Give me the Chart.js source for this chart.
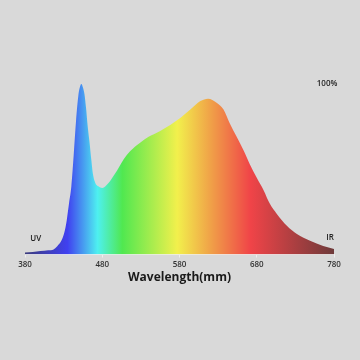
<!DOCTYPE html>
<html>
<head>
<meta charset="utf-8">
<script src="https://cdn.jsdelivr.net/npm/chart.js@4.4.1/dist/chart.umd.min.js"></script>
<style>
  html, body { margin: 0; padding: 0; background: #d9d9d9; }
  #wrap { width: 360px; height: 360px; position: relative; }
</style>
</head>
<body>
<div id="wrap"><canvas id="c" width="360" height="360"></canvas></div>
<script>
// Wavelength (nm) and relative intensity (%)
const wavelengths = [380, 390, 400, 410, 417, 422, 427, 431, 434, 437, 440, 443, 446, 449, 452, 453, 455, 457, 459, 461, 463.5, 466, 468, 471, 475, 480, 485, 490, 496, 502, 508, 516, 523, 529, 540, 555, 568, 581, 594, 607, 617, 628, 637, 645, 654, 663, 671, 680, 689, 697, 706, 719, 732, 749, 766, 780];
const intensity   = [1.2, 1.5, 2, 2.5, 3, 5, 8, 13, 20, 30, 40, 58, 78, 93, 99.5, 100, 98, 94, 86, 76, 66, 55, 47, 42, 40, 39, 40.5, 43, 47, 51.5, 56, 60.5, 63.5, 65.5, 69, 72.5, 76, 80, 85, 90, 91.4, 89, 85, 77, 69, 61, 53, 45, 37.6, 29.7, 23.8, 16.9, 12, 8, 5, 3.2];
const xTicks = [380, 480, 580, 680, 780];
const spectrumStops = [
  [380, '#3c3c7c'], [435, '#4040f0'], [474, '#4ef0f0'], [506, '#50e850'],
  [577, '#f2f04c'], [621, '#f0a048'], [672, '#f04448'], [780, '#6e3a3a']
];
const labelTexts = { uv: 'UV', ir: 'IR', top: '100%' };

const points = wavelengths.map((w, i) => ({ x: w, y: intensity[i] }));

function spectrumGradient(ctx) {
  const chart = ctx.chart;
  const area = chart.chartArea;
  if (!area) return '#888';
  const xs = chart.scales.x;
  const g = chart.ctx.createLinearGradient(xs.getPixelForValue(380), 0, xs.getPixelForValue(780), 0);
  spectrumStops.forEach(([w, c]) => g.addColorStop((w - 380) / 400, c));
  return g;
}

const textPlugin = {
  id: 'texts',
  afterDatasetsDraw(chart) {
    const { ctx, scales: { x, y } } = chart;
    ctx.save();
    ctx.fillStyle = '#222';
    ctx.font = '600 8px "Open Sans", sans-serif';
    ctx.textAlign = 'center';
    ctx.textBaseline = 'middle';
    ctx.fillText(labelTexts.uv, x.getPixelForValue(394), y.getPixelForValue(9.5));
    ctx.fillText(labelTexts.ir, x.getPixelForValue(775), y.getPixelForValue(10));
    ctx.fillText(labelTexts.top, x.getPixelForValue(771), y.getPixelForValue(100));
    ctx.restore();
  }
};

new Chart(document.getElementById('c'), {
  type: 'line',
  data: {
    datasets: [{
      data: points,
      fill: 'origin',
      backgroundColor: spectrumGradient,
      borderWidth: 0,
      pointRadius: 0,
      tension: 0.4,
      cubicInterpolationMode: 'monotone'
    }]
  },
  options: {
    responsive: false,
    animation: false,
    events: [],
    layout: { padding: { left: 25, right: 26, top: 84, bottom: 75.5 } },
    plugins: { legend: { display: false }, tooltip: { enabled: false } },
    scales: {
      x: {
        type: 'linear', min: 380, max: 780,
        afterBuildTicks: (axis) => { axis.ticks = xTicks.map(v => ({ value: v })); },
        ticks: { color: '#333', font: { family: '"Open Sans", sans-serif', size: 8, weight: '600' }, padding: 2, maxRotation: 0 },
        grid: { display: true, drawOnChartArea: false, tickLength: 3, color: '#eeeeee' },
        border: { display: true, color: '#eeeeee' },
        title: { display: true, text: 'Wavelength(mm)', color: '#1a1a1a', font: { family: '"Open Sans", sans-serif', size: 12, weight: '700' }, padding: { top: -1, bottom: 0 } }
      },
      y: { display: false, min: 0, max: 100 }
    }
  },
  plugins: [textPlugin]
});
</script>
</body>
</html>
